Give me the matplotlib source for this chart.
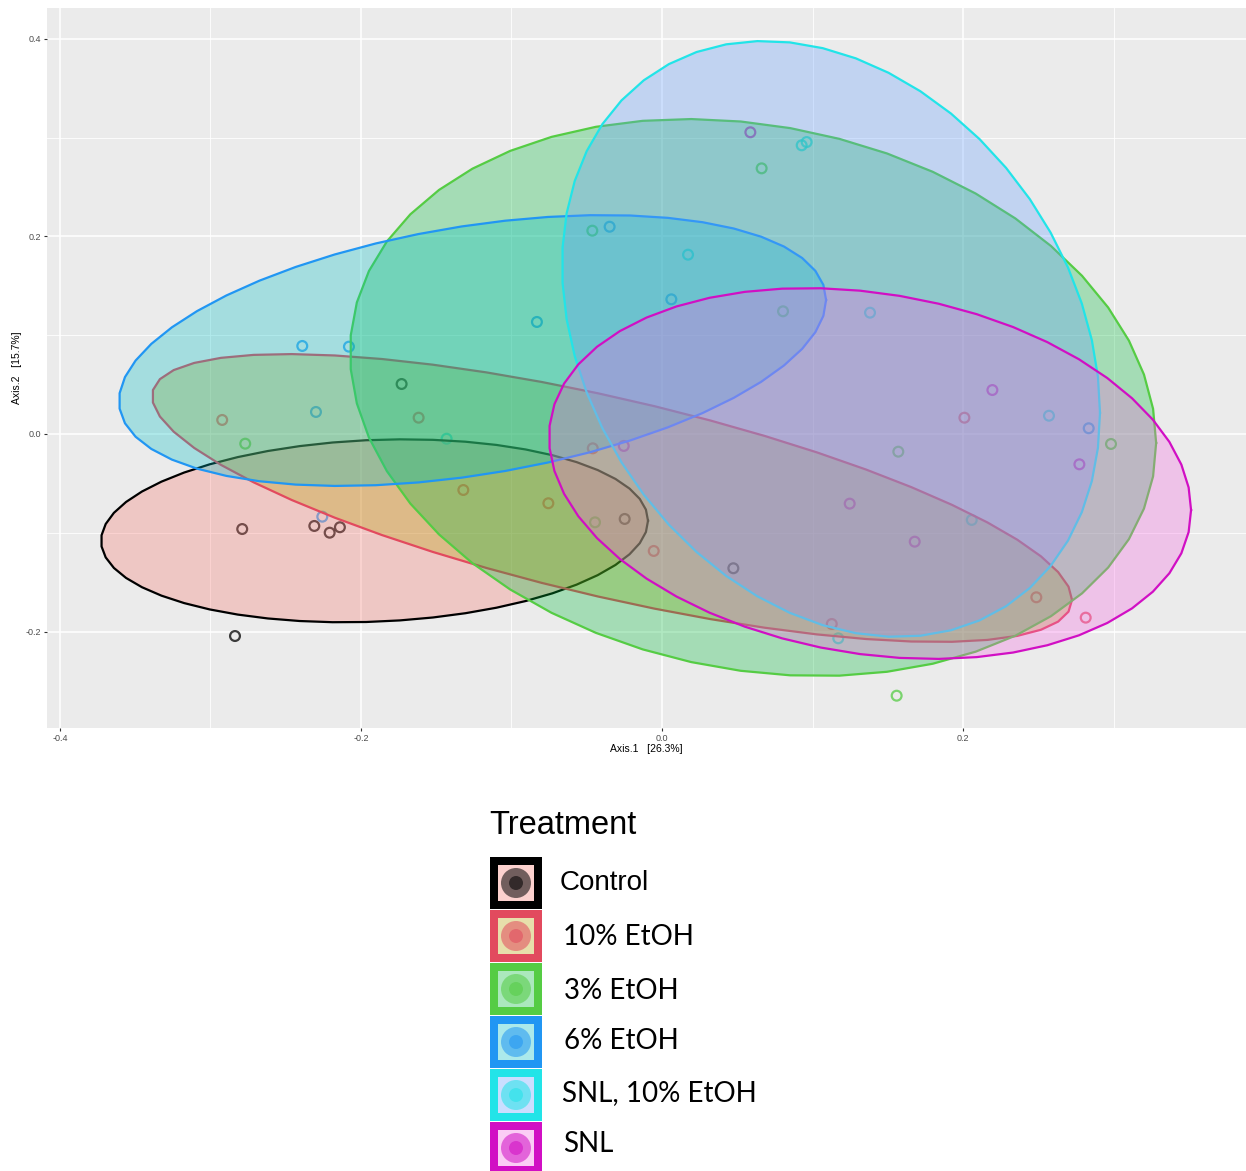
import numpy as np
import matplotlib
matplotlib.use("Agg")
import matplotlib.pyplot as plt
from matplotlib.patches import Rectangle, Circle
from matplotlib.ticker import MultipleLocator

plt.rcParams['font.family'] = ['Liberation Sans', 'DejaVu Sans']

# treatment groups, in legend order
groups = ["Control", "10% EtOH", "3% EtOH", "6% EtOH", "SNL, 10% EtOH", "SNL"]
line_colors = ["#000000", "#E24A5E", "#55CC44", "#2196F3", "#22E4E8", "#D10FC4"]
fill_colors = ["#F8766D", "#B79F00", "#00BA38", "#00BFC4", "#619CFF", "#F564E3"]

# PCoA sample scores (Axis.1, Axis.2) per group
ctrl_x = [-0.2789, -0.2310, -0.2208, -0.2140, -0.2837, -0.1730, -0.0248, 0.0474]
ctrl_y = [-0.0962, -0.0931, -0.0999, -0.0944, -0.2045, 0.0506, -0.0860, -0.1359]
e10_x = [-0.2922, -0.1617, -0.1320, -0.0755, -0.0460, -0.0055, 0.1128, 0.2009, 0.2487, 0.2815]
e10_y = [0.0142, 0.0165, -0.0567, -0.0701, -0.0145, -0.1184, -0.1923, 0.0165, -0.1653, -0.1859]
e3_x = [-0.2769, -0.0463, -0.0445, 0.0662, 0.0804, 0.1570, 0.2983, 0.1559]
e3_y = [-0.0098, 0.2058, -0.0894, 0.2689, 0.1242, -0.0179, -0.0101, -0.2649]
e6_x = [-0.2390, -0.2080, -0.2299, -0.2257, -0.0831, -0.0348, 0.0062, 0.2835]
e6_y = [0.0891, 0.0884, 0.0223, -0.0837, 0.1134, 0.2098, 0.1363, 0.0058]
snl10_x = [-0.1431, 0.0173, 0.0928, 0.0961, 0.1382, 0.2571, 0.2058, 0.1171]
snl10_y = [-0.0048, 0.1815, 0.2922, 0.2955, 0.1228, 0.0185, -0.0870, -0.2068]
snl_x = [0.0587, -0.0254, 0.1247, 0.1679, 0.2195, 0.2773]
snl_y = [0.3054, -0.0121, -0.0705, -0.1090, 0.0445, -0.0307]

xs = [ctrl_x, e10_x, e3_x, e6_x, snl10_x, snl_x]
ys = [ctrl_y, e10_y, e3_y, e6_y, snl10_y, snl_y]

# confidence ellipses: centre, x / y half-spread, correlation
ell_cx = [-0.1910, -0.0332, 0.0605, -0.1259, 0.1123, 0.1382]
ell_cy = [-0.0980, -0.0648, 0.0369, 0.0845, 0.0962, -0.0400]
ell_sx = [0.1817, 0.3056, 0.2678, 0.2349, 0.1787, 0.2133]
ell_sy = [0.0926, 0.1457, 0.2819, 0.1371, 0.3016, 0.1877]
ell_r = [0.11, -0.708, -0.163, 0.373, -0.248, -0.197]

fig = plt.figure(figsize=(12.46, 11.71), dpi=100)
ax = fig.add_axes([47 / 1246, 443 / 1171, 1199 / 1246, 720 / 1171])
ax.set_facecolor("#EBEBEB")
for s in ax.spines.values():
    s.set_visible(False)

ax.set_xlim(-0.4086, 0.3880)
ax.set_ylim(-0.2976, 0.4312)
ax.xaxis.set_major_locator(MultipleLocator(0.2))
ax.yaxis.set_major_locator(MultipleLocator(0.2))
ax.xaxis.set_minor_locator(MultipleLocator(0.1))
ax.yaxis.set_minor_locator(MultipleLocator(0.1))
ax.grid(which="major", color="white", lw=1.1)
ax.grid(which="minor", color="white", lw=0.6)
ax.set_axisbelow(True)
ax.tick_params(which="major", length=2.5, width=0.8, color="#333333",
               labelsize=6.5, labelcolor="#4D4D4D", pad=2)
ax.tick_params(which="minor", length=0)
ax.xaxis.set_major_formatter(matplotlib.ticker.FormatStrFormatter("%.1f"))
ax.yaxis.set_major_formatter(matplotlib.ticker.FormatStrFormatter("%.1f"))

ax.set_xlabel("Axis.1   [26.3%]", fontsize=7.5)
ax.set_ylabel("Axis.2   [15.7%]", fontsize=7.5)
ax.xaxis.set_label_coords(0.5, -0.0285)
ax.xaxis.label.set_va("center")
ax.yaxis.set_label_coords(-0.025, 0.5)
ax.yaxis.label.set_va("center")

# points go underneath the ellipses
for i in range(len(groups)):
    ax.scatter(xs[i], ys[i], s=50, facecolors="none", edgecolors=line_colors[i],
               linewidths=1.6, alpha=0.75, zorder=2)

t = np.linspace(0, 2 * np.pi, 52)
for i in range(len(groups)):
    ex = ell_cx[i] + ell_sx[i] * np.cos(t)
    ey = ell_cy[i] + ell_sy[i] * (ell_r[i] * np.cos(t) + np.sqrt(1 - ell_r[i] ** 2) * np.sin(t))
    ax.fill(ex, ey, color=fill_colors[i], alpha=0.3, lw=0, zorder=3 + 2 * i)
    ax.plot(ex, ey, color=line_colors[i], lw=1.6, zorder=4 + 2 * i)

# legend drawn in pixel space below the panel
lg = fig.add_axes([0, 0, 1, 1])
lg.set_xlim(0, 1246)
lg.set_ylim(1171, 0)
lg.axis("off")
lg.text(489, 826, "Treatment", fontsize=23.5, va="center", ha="left")
label_x = [560, 563, 564, 564, 562, 563]
label_y = [883, 937, 991, 1041, 1093, 1144]
for i, g in enumerate(groups):
    top = 857 + 53 * i
    lg.add_patch(Rectangle((490, top), 52, 52, color=line_colors[i], lw=0))
    lg.add_patch(Rectangle((498, top + 8), 36, 36, color="white", lw=0))
    lg.add_patch(Rectangle((498, top + 8), 36, 36, color=fill_colors[i], alpha=0.33, lw=0))
    lc = "#000000" if i == 0 else line_colors[i]
    lg.add_patch(Circle((516, top + 26), 15, color=lc, alpha=0.55, lw=0))
    lg.add_patch(Circle((516, top + 26), 7, color=lc, alpha=0.55, lw=0))
    if i == 0:
        lg.text(label_x[i], label_y[i], g, fontsize=20, va="center", ha="left")
    else:
        lg.text(label_x[i], label_y[i], g, fontsize=20, va="center", ha="left",
                family=["Lato", "DejaVu Sans"])

fig.savefig("out.png", dpi=100)
